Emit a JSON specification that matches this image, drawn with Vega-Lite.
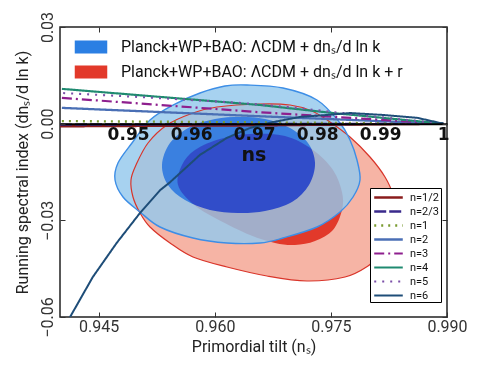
{
  "$schema": "https://vega.github.io/schema/vega-lite/v6.json",
  "width": 387,
  "height": 290,
  "autosize": "none",
  "padding": {"left": 60, "top": 27, "right": 32, "bottom": 60},
  "config": {"view": {"stroke": "#222", "strokeWidth": 1.5}, "font": "Roboto"},
  "datasets": {
    "contours": [
      {"r":"R95","i":1,"x":0.96028,"y":0.00517},{"r":"R95","i":2,"x":0.96584,"y":0.0061},{"r":"R95","i":3,"x":0.96972,"y":0.00579},{"r":"R95","i":4,"x":0.97256,"y":0.00393},{"r":"R95","i":5,"x":0.97488,"y":0.00052},{"r":"R95","i":6,"x":0.97747,"y":-0.00414},{"r":"R95","i":7,"x":0.98005,"y":-0.01034},{"r":"R95","i":8,"x":0.98199,"y":-0.01655},{"r":"R95","i":9,"x":0.98302,"y":-0.02214},{"r":"R95","i":10,"x":0.98328,"y":-0.02834},{"r":"R95","i":11,"x":0.98289,"y":-0.03455},{"r":"R95","i":12,"x":0.98173,"y":-0.03983},{"r":"R95","i":13,"x":0.97979,"y":-0.04417},{"r":"R95","i":14,"x":0.97682,"y":-0.04759},{"r":"R95","i":15,"x":0.97191,"y":-0.04883},{"r":"R95","i":16,"x":0.96674,"y":-0.04727},{"r":"R95","i":17,"x":0.96158,"y":-0.04448},{"r":"R95","i":18,"x":0.95718,"y":-0.04138},{"r":"R95","i":19,"x":0.95421,"y":-0.03703},{"r":"R95","i":20,"x":0.95163,"y":-0.03207},{"r":"R95","i":21,"x":0.95034,"y":-0.02772},{"r":"R95","i":22,"x":0.94943,"y":-0.02276},{"r":"R95","i":23,"x":0.94917,"y":-0.01748},{"r":"R95","i":24,"x":0.94982,"y":-0.01283},{"r":"R95","i":25,"x":0.95137,"y":-0.006},{"r":"R95","i":26,"x":0.95382,"y":-0.00041},{"r":"R95","i":27,"x":0.95718,"y":0.00331},
      {"r":"R68","i":1,"x":0.95525,"y":-0.01903},{"r":"R68","i":2,"x":0.95576,"y":-0.01283},{"r":"R68","i":3,"x":0.95744,"y":-0.00817},{"r":"R68","i":4,"x":0.96067,"y":-0.00476},{"r":"R68","i":5,"x":0.96455,"y":-0.00321},{"r":"R68","i":6,"x":0.96907,"y":-0.00383},{"r":"R68","i":7,"x":0.97269,"y":-0.00817},{"r":"R68","i":8,"x":0.97527,"y":-0.01438},{"r":"R68","i":9,"x":0.97643,"y":-0.02121},{"r":"R68","i":10,"x":0.97643,"y":-0.02679},{"r":"R68","i":11,"x":0.97527,"y":-0.033},{"r":"R68","i":12,"x":0.97295,"y":-0.03641},{"r":"R68","i":13,"x":0.97036,"y":-0.03765},{"r":"R68","i":14,"x":0.96778,"y":-0.03703},{"r":"R68","i":15,"x":0.96455,"y":-0.03455},{"r":"R68","i":16,"x":0.96028,"y":-0.02958},{"r":"R68","i":17,"x":0.95718,"y":-0.02493},
      {"r":"B95","i":1,"x":0.96132,"y":0.01169},{"r":"B95","i":2,"x":0.96416,"y":0.012},{"r":"B95","i":3,"x":0.96881,"y":0.01107},{"r":"B95","i":4,"x":0.9732,"y":0.00735},{"r":"B95","i":5,"x":0.97618,"y":0.00021},{"r":"B95","i":6,"x":0.97747,"y":-0.00507},{"r":"B95","i":7,"x":0.97837,"y":-0.01128},{"r":"B95","i":8,"x":0.97876,"y":-0.01748},{"r":"B95","i":9,"x":0.97786,"y":-0.02276},{"r":"B95","i":10,"x":0.97618,"y":-0.02741},{"r":"B95","i":11,"x":0.9732,"y":-0.03207},{"r":"B95","i":12,"x":0.96881,"y":-0.03548},{"r":"B95","i":13,"x":0.96584,"y":-0.03703},{"r":"B95","i":14,"x":0.96158,"y":-0.03703},{"r":"B95","i":15,"x":0.95718,"y":-0.03548},{"r":"B95","i":16,"x":0.95292,"y":-0.03207},{"r":"B95","i":17,"x":0.95034,"y":-0.02741},{"r":"B95","i":18,"x":0.94814,"y":-0.02276},{"r":"B95","i":19,"x":0.94711,"y":-0.01748},{"r":"B95","i":20,"x":0.94749,"y":-0.01221},{"r":"B95","i":21,"x":0.9493,"y":-0.006},{"r":"B95","i":22,"x":0.95163,"y":0.00114},{"r":"B95","i":23,"x":0.9546,"y":0.00579},{"r":"B95","i":24,"x":0.95809,"y":0.00952},
      {"r":"B68","i":1,"x":0.95318,"y":-0.01283},{"r":"B68","i":2,"x":0.95421,"y":-0.006},{"r":"B68","i":3,"x":0.9568,"y":-0.00103},{"r":"B68","i":4,"x":0.96003,"y":0.00145},{"r":"B68","i":5,"x":0.96326,"y":0.00207},{"r":"B68","i":6,"x":0.96649,"y":0.00145},{"r":"B68","i":7,"x":0.96972,"y":-0.00134},{"r":"B68","i":8,"x":0.97204,"y":-0.006},{"r":"B68","i":9,"x":0.97295,"y":-0.01221},{"r":"B68","i":10,"x":0.97217,"y":-0.01903},{"r":"B68","i":11,"x":0.96997,"y":-0.02431},{"r":"B68","i":12,"x":0.96649,"y":-0.0271},{"r":"B68","i":13,"x":0.963,"y":-0.02772},{"r":"B68","i":14,"x":0.95938,"y":-0.02679},{"r":"B68","i":15,"x":0.95615,"y":-0.02369},{"r":"B68","i":16,"x":0.95395,"y":-0.01903}
    ],
    "lines": [
      {"n":"n=1/2","x":0.9392,"y":-0.0008},{"n":"n=1/2","x":0.9709,"y":-0.0005},{"n":"n=1/2","x":1.0,"y":0},
      {"n":"n=2/3","x":0.9392,"y":-0.0003},{"n":"n=2/3","x":1.0,"y":0},
      {"n":"n=1","x":0.9395,"y":0.0008},{"n":"n=1","x":0.9709,"y":0.0004},{"n":"n=1","x":1.0,"y":0},
      {"n":"n=2","x":0.9395,"y":0.0049},{"n":"n=2","x":0.9709,"y":0.0023},{"n":"n=2","x":1.0,"y":0},
      {"n":"n=3","x":0.9395,"y":0.008},{"n":"n=3","x":0.9551,"y":0.0058},{"n":"n=3","x":0.9705,"y":0.0036},{"n":"n=3","x":1.0,"y":0},
      {"n":"n=4","x":0.9395,"y":0.0108},{"n":"n=4","x":0.9551,"y":0.0083},{"n":"n=4","x":0.9709,"y":0.0058},{"n":"n=4","x":0.9825,"y":0.0033},{"n":"n=4","x":1.0,"y":0},
      {"n":"n=5","x":0.9397,"y":0.0095},{"n":"n=5","x":0.9535,"y":0.0081},{"n":"n=5","x":0.9682,"y":0.0064},{"n":"n=5","x":0.9768,"y":0.0049},{"n":"n=5","x":0.9852,"y":0.003},{"n":"n=5","x":1.0,"y":0},
      {"n":"n=6","x":0.9396,"y":-0.064},{"n":"n=6","x":0.9408,"y":-0.06},{"n":"n=6","x":0.9444,"y":-0.0476},{"n":"n=6","x":0.9482,"y":-0.037},{"n":"n=6","x":0.9519,"y":-0.0277},{"n":"n=6","x":0.9551,"y":-0.0206},{"n":"n=6","x":0.9567,"y":-0.0181},{"n":"n=6","x":0.9614,"y":-0.0097},{"n":"n=6","x":0.9657,"y":-0.0044},{"n":"n=6","x":0.9694,"y":-0.0013},{"n":"n=6","x":0.973,"y":0.0005},{"n":"n=6","x":0.9773,"y":0.0021},{"n":"n=6","x":0.9816,"y":0.0027},{"n":"n=6","x":0.9852,"y":0.0033},{"n":"n=6","x":0.9905,"y":0.0027},{"n":"n=6","x":0.9959,"y":0.0018},{"n":"n=6","x":1.0,"y":0}
    ]
  },
  "layer": [
    {
      "data": {"name": "contours"},
      "encoding": {
        "x": {"field": "x", "type": "quantitative", "scale": {"domain": [0.94, 0.99], "nice": false, "zero": false}, "axis": null},
        "y": {"field": "y", "type": "quantitative", "scale": {"domain": [-0.06, 0.03], "nice": false, "zero": false}, "axis": null},
        "order": {"field": "i", "type": "quantitative"}
      },
      "layer": [
        {
          "transform": [{"filter": "datum.r == 'R95'"}],
          "mark": {"type": "line", "interpolate": "cardinal-closed", "strokeWidth": 0},
          "encoding": {
            "x": {"field": "x", "type": "quantitative", "axis": {"orient": "bottom", "values": [0.945, 0.96, 0.975, 0.99], "format": ".3f", "tickSize": -5, "tickColor": "#333", "labelPadding": 6, "labelFontSize": 16, "labelColor": "#333", "labelFlush": false, "domain": false, "grid": false, "title": "Primordial tilt (nₛ)", "titleFontSize": 16, "titleFontWeight": "normal", "titleColor": "#222", "titlePadding": 4, "zindex": 1}},
            "y": {"field": "y", "type": "quantitative", "axis": {"orient": "left", "values": [-0.06, -0.03, 0, 0.03], "format": ".2f", "tickSize": -5, "tickColor": "#333", "labelAngle": 270, "labelAlign": "center", "labelBaseline": "bottom", "labelPadding": 10, "labelFontSize": 16, "labelColor": "#333", "labelFlush": false, "domain": false, "grid": false, "title": "Running spectral index (dnₛ/d ln k)", "titleFontSize": 16, "titleFontWeight": "normal", "titleColor": "#222", "titlePadding": 9, "zindex": 1}},
            "fill": {"field": "r", "type": "nominal",
              "scale": {"domain": ["R95", "R68", "B95", "B68", "LB"], "range": ["#f6b4a5", "#e2392a", "#94c8ed", "#7374ff", "#2b7fe3"]},
              "legend": {"orient": "none", "legendX": 23, "legendY": 12, "values": ["LB", "R68"], "labelExpr": "datum.value == 'LB' ? 'Planck+WP+BAO: ΛCDM + dnₛ/d ln k' : 'Planck+WP+BAO: ΛCDM + dnₛ/d ln k + r'", "title": null, "symbolType": "M-2.5,-1H2.5V1H-2.5Z", "symbolSize": 169, "symbolStrokeWidth": 0, "symbolOpacity": 1, "labelOffset": 22, "labelFontSize": 16, "labelColor": "#111", "labelLimit": 500, "rowPadding": 9, "padding": 0}}
          }
        },
        {
          "transform": [{"filter": "datum.r == 'R68'"}],
          "mark": {"type": "line", "interpolate": "cardinal-closed", "strokeWidth": 0},
          "encoding": {"fill": {"field": "r", "type": "nominal"}}
        },
        {
          "transform": [{"filter": "datum.r == 'B95'"}],
          "mark": {"type": "line", "interpolate": "cardinal-closed", "strokeWidth": 0, "fillOpacity": 0.82},
          "encoding": {"fill": {"field": "r", "type": "nominal"}}
        },
        {
          "transform": [{"filter": "datum.r == 'R95'"}],
          "mark": {"type": "line", "interpolate": "cardinal-closed", "stroke": "#d9352a", "strokeWidth": 1.2},
          "encoding": {
            "x": {"field": "x", "type": "quantitative", "axis": {"orient": "top", "values": [0.945, 0.96, 0.975, 0.99], "labels": false, "tickSize": -5, "tickColor": "#333", "domain": false, "grid": false, "title": null, "zindex": 1}},
            "y": {"field": "y", "type": "quantitative", "axis": {"orient": "right", "values": [-0.06, -0.03, 0, 0.03], "labels": false, "tickSize": -5, "tickColor": "#333", "domain": false, "grid": false, "title": null, "zindex": 1}}
          }
        },
        {
          "transform": [{"filter": "datum.r == 'B95'"}],
          "mark": {"type": "line", "interpolate": "cardinal-closed", "stroke": "#3d8ee6", "strokeWidth": 1.4}
        },
        {
          "transform": [{"filter": "datum.r == 'B68'"}],
          "mark": {"type": "line", "interpolate": "cardinal-closed", "strokeWidth": 0, "blend": "color-burn"},
          "encoding": {"fill": {"field": "r", "type": "nominal"}}
        }
      ],
      "resolve": {"axis": {"x": "independent", "y": "independent"}}
    },
    {
      "data": {"name": "lines"},
      "mark": {"type": "line", "clip": true},
      "encoding": {
        "x": {"field": "x", "type": "quantitative", "scale": {"domain": [0.9392, 1.0006], "nice": false, "zero": false},
          "axis": {"orient": "bottom", "offset": -193.3, "values": [0.95, 0.96, 0.97, 0.98, 0.99, 1], "labelExpr": "datum.value > 0.995 ? '1' : format(datum.value, '.2f')", "ticks": false, "domainColor": "#000", "domainWidth": 2, "labelFont": "DejaVu Sans", "labelFontWeight": "bold", "labelFontSize": 17, "labelColor": "#111", "labelPadding": 3, "labelOverlap": false, "grid": false, "title": "ns", "titleFont": "DejaVu Sans", "titleFontWeight": "bold", "titleFontSize": 19, "titleColor": "#111", "titlePadding": 3, "zindex": 1}},
        "y": {"field": "y", "type": "quantitative", "scale": {"domain": [-0.06, 0.03], "nice": false, "zero": false}, "axis": null},
        "color": {"field": "n", "type": "nominal",
          "scale": {"domain": ["n=1/2", "n=2/3", "n=1", "n=2", "n=3", "n=4", "n=5", "n=6"], "range": ["#8a1c1c", "#3a2a8c", "#7a9b30", "#4a6fb5", "#8e1f8e", "#1f8a70", "#7b4fa8", "#1e4d78"]},
          "legend": {"orient": "none", "legendX": 310, "legendY": 161, "title": null, "symbolType": "M-2,0H2", "symbolSize": 204, "symbolStrokeWidth": 2, "labelFontSize": 11, "labelColor": "#111", "rowPadding": 0, "padding": 1, "symbolOffset": 9, "labelOffset": 13, "strokeColor": "#000", "fillColor": "#fff"}},
        "strokeDash": {"field": "n", "type": "nominal",
          "scale": {"domain": ["n=1/2", "n=2/3", "n=1", "n=2", "n=3", "n=4", "n=5", "n=6"], "range": [[1, 0], [12, 3], [2, 5], [1, 0], [10, 4, 2, 4], [1, 0], [2, 6], [1, 0]]}},
        "strokeWidth": {"field": "n", "type": "ordinal", "legend": null,
          "scale": {"domain": ["n=1/2", "n=2/3", "n=1", "n=2", "n=3", "n=4", "n=5", "n=6"], "range": [2.5, 2, 2.2, 2, 2, 2, 2.2, 3.5]}}
      }
    }
  ],
  "resolve": {"scale": {"x": "independent", "y": "independent"}, "axis": {"x": "independent", "y": "independent"}}
}
